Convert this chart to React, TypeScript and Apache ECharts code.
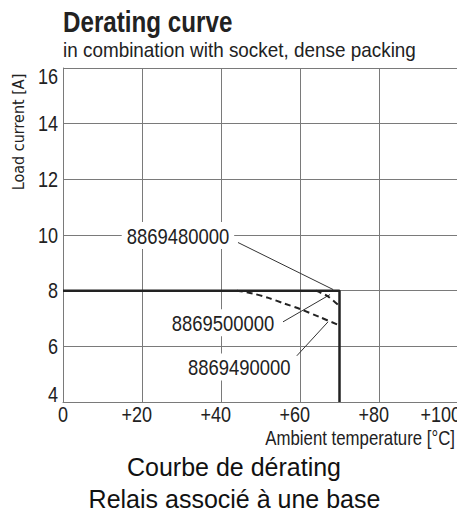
import React, { useEffect, useRef } from "react";
import * as echarts from "echarts";

// ---- data ----
const xTickValues = [0, 20, 40, 60, 80, 100];
const xTickLabels = ["0", "+20", "+40", "+60", "+80", "+100"];
const yTickValues = [4, 6, 8, 10, 12, 14, 16];
const yTickLabels = ["4", "6", "8", "10", "12", "14", "16"];
const curve8869480000 = [[0, 8], [70, 8], [70, 4]];
const curve8869490000 = [[44, 8], [48, 7.9], [52, 7.74], [56, 7.54], [60, 7.34], [65, 7.05], [70, 6.75]];
const curve8869500000 = [[64, 8], [67, 7.8], [70, 7.45]];
const labelNames = ["8869480000", "8869500000", "8869490000"];
const labelPos = [[29.1, 9.98], [40.5, 6.85], [44.6, 5.26]];
const leaderFrom = [[44.3, 9.73], [55.7, 6.88], [59.2, 5.66]];
const leaderTo = [[68.4, 8.04], [67.6, 7.86], [67.1, 6.88]];

const SANS = '"Liberation Sans", Arial, sans-serif';
const NARROW_X = 0.82; // horizontal squeeze to emulate a condensed face
const INK = "#222";
const GRID = "#7a7a7a";

export default function App() {
  const ref = useRef<HTMLDivElement>(null);
  useEffect(() => {
    if (!ref.current) return;
    const chart = echarts.init(ref.current, null, { renderer: "svg" });
    const leaderSeries = labelNames.map((n, i) => ({
      type: "line",
      name: "leader-" + n,
      data: [leaderFrom[i], leaderTo[i]],
      symbol: "none",
      lineStyle: { color: "#333", width: 1 },
      z: 4,
      silent: true,
    }));
    chart.setOption({
      animation: false,
      backgroundColor: "#fff",
      grid: { left: 63, right: 42, top: 68, bottom: 108 },
      xAxis: {
        type: "value",
        min: 0,
        max: 100,
        interval: 20,
        axisLine: { show: true, onZero: false, lineStyle: { color: GRID, width: 1 } },
        axisTick: { show: false },
        splitLine: { show: true, lineStyle: { color: GRID, width: 1 } },
        axisLabel: { show: false },
      },
      yAxis: {
        type: "value",
        min: 4,
        max: 16,
        interval: 2,
        axisLine: { show: true, onZero: false, lineStyle: { color: GRID, width: 1 } },
        axisTick: { show: false },
        splitLine: { show: true, lineStyle: { color: GRID, width: 1 } },
        axisLabel: { show: false },
      },
      series: [
        {
          type: "line",
          name: "8869480000",
          data: curve8869480000,
          symbol: "none",
          lineStyle: { color: INK, width: 2.5 },
          z: 5,
        },
        {
          type: "line",
          name: "8869490000",
          data: curve8869490000,
          symbol: "none",
          smooth: 0.3,
          lineStyle: { color: INK, width: 2, type: [6, 4] },
          z: 5,
        },
        {
          type: "line",
          name: "8869500000",
          data: curve8869500000,
          symbol: "none",
          smooth: 0.3,
          lineStyle: { color: INK, width: 2, type: [6, 4] },
          z: 5,
        },
        ...leaderSeries,
      ],
    });

    const px = (v: number[]) => chart.convertToPixel({ xAxisIndex: 0, yAxisIndex: 0 }, v) as number[];
    const narrowText = (text: string, x: number, y: number, size: number, align: string, vAlign: string, extra: any = {}, sx = NARROW_X, weight = "normal") => ({
      type: "text",
      x,
      y,
      scaleX: sx,
      z: 20,
      silent: true,
      style: {
        text,
        font: `${weight} ${size}px ${SANS}`,
        fill: INK,
        textAlign: align,
        textVerticalAlign: vAlign,
        ...extra,
      },
    });

    const graphics: any[] = [];
    // x tick labels: digits centred on the grid line, the sign hangs to the left
    const digitW = 0.556 * 22 * NARROW_X;
    xTickValues.forEach((v, i) => {
      const p = px([v, 4]);
      const lab = xTickLabels[i];
      const nDigits = lab.replace("+", "").length;
      let right = p[0] + (nDigits * digitW) / 2;
      right = Math.min(right, 461); // last label pulled inside as in the original
      graphics.push(narrowText(lab, right, p[1] + 12, 22, "right", "middle"));
    });
    // y tick labels
    yTickValues.forEach((v, i) => {
      const p = px([0, v]);
      let dy = 0;
      if (i === yTickValues.length - 1) dy = 8;
      if (i === 0) dy = -8;
      graphics.push(narrowText(yTickLabels[i], p[0] - 5, p[1] + dy, 22, "right", "middle"));
    });
    // annotation labels
    labelNames.forEach((n, i) => {
      const p = px(labelPos[i]);
      graphics.push(narrowText(n, p[0], p[1], 22.5, "center", "middle", { backgroundColor: "#fff", padding: [2, 6, 2, 6] }));
    });
    // titles and axis names
    graphics.push(narrowText("Derating curve", 63, 22, 29.5, "left", "middle", {}, NARROW_X, "bold"));
    graphics.push(narrowText("in combination with socket, dense packing", 63, 50, 21, "left", "middle", {}, 0.9));
    graphics.push({
      type: "text",
      x: 18.5,
      y: 132,
      rotation: Math.PI / 2,
      z: 20,
      style: { text: "Load current [A]", font: '16px "DejaVu Sans Condensed", sans-serif', fill: INK, textAlign: "center", textVerticalAlign: "middle" },
    });
    graphics.push(narrowText("Ambient temperature [°C]", 455, 438, 20.5, "right", "middle"));
    graphics.push({
      type: "text",
      x: 234,
      y: 467,
      z: 20,
      style: { text: "Courbe de dérating", font: `25px ${SANS}`, fill: "#111", textAlign: "center", textVerticalAlign: "middle" },
    });
    graphics.push({
      type: "text",
      x: 234.5,
      y: 499,
      z: 20,
      style: { text: "Relais associé à une base", font: `25px ${SANS}`, fill: "#111", textAlign: "center", textVerticalAlign: "middle" },
    });
    chart.setOption({ graphic: graphics });
    return () => chart.dispose();
  }, []);
  return (
    <div
      ref={ref}
      style={{ position: "fixed", left: 0, top: 0, width: 500, height: 510, background: "#fff" }}
    />
  );
}
